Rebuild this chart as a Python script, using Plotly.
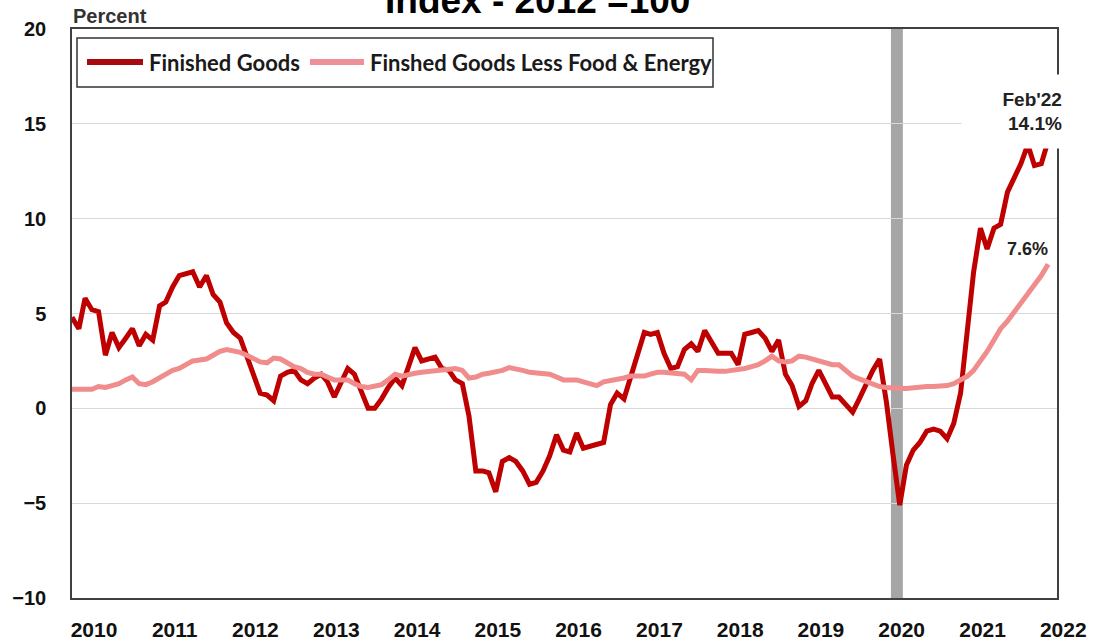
import pandas as pd
import plotly.graph_objects as go

# Monthly observations, Jan 2010 - Feb 2022 (year-over-year % change)
months = pd.date_range("2010-01-01", "2022-02-01", freq="MS")

finished_goods = [
    4.8, 4.2, 5.8, 5.2, 5.1, 2.8, 4.0, 3.2, 3.7, 4.2, 3.3, 3.9,      # 2010
    3.6, 5.4, 5.6, 6.4, 7.0, 7.1, 7.2, 6.4, 7.0, 6.0, 5.6, 4.5,      # 2011
    4.0, 3.7, 2.8, 1.8, 0.8, 0.7, 0.4, 1.7, 1.9, 2.0, 1.5, 1.3,      # 2012
    1.6, 1.8, 1.4, 0.6, 1.4, 2.1, 1.8, 0.9, 0.0, 0.0, 0.5, 1.1,      # 2013
    1.6, 1.2, 2.2, 3.2, 2.5, 2.6, 2.7, 2.1, 2.0, 1.5, 1.3, -0.4,     # 2014
    -3.3, -3.3, -3.4, -4.4, -2.8, -2.6, -2.8, -3.3, -4.0, -3.9, -3.3, -2.5,  # 2015
    -1.4, -2.2, -2.3, -1.3, -2.1, -2.0, -1.9, -1.8, 0.2, 0.8, 0.5, 1.6,      # 2016
    2.7, 4.0, 3.9, 4.0, 2.9, 2.1, 2.2, 3.1, 3.4, 3.0, 4.1, 3.5,      # 2017
    2.9, 2.9, 2.9, 2.3, 3.9, 4.0, 4.1, 3.7, 3.0, 3.6, 1.8, 1.2,      # 2018
    0.1, 0.4, 1.3, 2.0, 1.3, 0.6, 0.6, 0.2, -0.2, 0.5, 1.3, 2.0,     # 2019
    2.6, 0.3, -2.4, -5.1, -3.0, -2.2, -1.8, -1.2, -1.1, -1.2, -1.6, -0.8,    # 2020
    0.8, 4.0, 7.2, 9.5, 8.4, 9.5, 9.7, 11.4, 12.2, 12.9, 13.9, 12.8,  # 2021
    12.9, 14.1,                                                       # 2022
]

less_food_energy = [
    1.0, 1.0, 1.0, 1.0, 1.15, 1.1, 1.2, 1.3, 1.5, 1.65, 1.3, 1.25,   # 2010
    1.4, 1.6, 1.8, 2.0, 2.1, 2.3, 2.5, 2.55, 2.6, 2.8, 3.0, 3.1,     # 2011
    3.05, 2.95, 2.8, 2.6, 2.45, 2.4, 2.65, 2.6, 2.4, 2.2, 2.1, 1.9,  # 2012
    1.8, 1.8, 1.65, 1.5, 1.5, 1.5, 1.3, 1.15, 1.1, 1.15, 1.25, 1.5,  # 2013
    1.8, 1.7, 1.8, 1.85, 1.9, 1.95, 2.0, 2.0, 2.05, 2.1, 2.0, 1.6,   # 2014
    1.65, 1.8, 1.85, 1.9, 2.0, 2.15, 2.1, 2.0, 1.9, 1.85, 1.8, 1.8,  # 2015
    1.65, 1.5, 1.5, 1.5, 1.4, 1.3, 1.2, 1.4, 1.45, 1.55, 1.6, 1.7,   # 2016
    1.7, 1.7, 1.8, 1.9, 1.9, 1.85, 1.8, 1.8, 1.5, 2.0, 2.0, 1.95,    # 2017
    1.95, 1.95, 2.0, 2.0, 2.1, 2.2, 2.3, 2.5, 2.75, 2.5, 2.45, 2.5,  # 2018
    2.75, 2.7, 2.6, 2.55, 2.4, 2.3, 2.3, 2.0, 1.7, 1.55, 1.4, 1.25,  # 2019
    1.15, 1.1, 1.05, 1.05, 1.05, 1.1, 1.1, 1.15, 1.15, 1.15, 1.2, 1.3,  # 2020
    1.5, 1.7, 2.0, 2.5, 3.0, 3.6, 4.2, 4.6, 5.1, 5.6, 6.0, 6.5,      # 2021
    7.0, 7.6,                                                         # 2022
]

series_names = ["Finished Goods", "Finshed Goods Less Food & Energy"]
series_colors = ["#BE0000", "#F08C8C"]
legend_sample_colors = ["#A80A10", "#EE9098"]

recession = ("2020-02-21", "2020-04-15")
year_ticks = [f"{y}-01-01" for y in range(2010, 2023)]
year_labels = [str(y) for y in range(2010, 2023)]

title_text = "Index - 2012 =100"
y_unit = "Percent"
last_label = "Feb'22"

# Plot-area geometry in pixels (used to place paper-referenced items)
W, H = 1117, 644
L, R, T, B = 72, 1057, 29, 598


def px_x(px):
    return (px - L) / (R - L)


def px_y(py):
    return (B - py) / (B - T)


fig = go.Figure()

for name, values, color in zip(series_names, [finished_goods, less_food_energy], series_colors):
    fig.add_trace(go.Scatter(
        x=months, y=values, name=name, mode="lines",
        line=dict(color=color, width=5), showlegend=False,
    ))

# Recession shading
fig.add_shape(type="rect", xref="x", yref="paper",
              x0=recession[0], x1=recession[1], y0=0, y1=1,
              fillcolor="#A6A6A6", line=dict(width=0), layer="below")

# Legend box drawn by hand so the line samples can be long
fig.add_shape(type="rect", xref="paper", yref="paper",
              x0=px_x(77), x1=px_x(713), y0=px_y(87), y1=px_y(38),
              line=dict(color="#333333", width=1.5), fillcolor="white", layer="above")
legend_items = [(87, 143, 147), (310, 364, 368)]
for (sx0, sx1, tx), name, color in zip(legend_items, series_names, legend_sample_colors):
    fig.add_shape(type="line", xref="paper", yref="paper",
                  x0=px_x(sx0), x1=px_x(sx1), y0=px_y(62), y1=px_y(62),
                  line=dict(color=color, width=6), layer="above")
    fig.add_annotation(text=name, xref="paper", yref="paper", x=px_x(tx), y=px_y(62),
                       xanchor="left", yanchor="middle", showarrow=False,
                       font=dict(family="Lato, Carlito, Open Sans, sans-serif", size=22,
                                 color="#1A1A1A", weight="bold"))

# End-of-series value labels
fig.add_annotation(text=f"{last_label}<br>{finished_goods[-1]:.1f}%",
                   x=months[-1], y=finished_goods[-1], xref="x", yref="y",
                   xanchor="right", yanchor="bottom", showarrow=False,
                   width=100, height=73, align="right", valign="middle",
                   bgcolor="white", borderpad=0, xshift=15, yshift=-8,
                   font=dict(family="Arial, Liberation Sans, sans-serif", size=19,
                             color="#222222", weight="bold"))
fig.add_annotation(text=f"{less_food_energy[-1]:.1f}%",
                   x=months[-1], y=less_food_energy[-1], xref="x", yref="y",
                   xanchor="right", yanchor="middle", showarrow=False,
                   xshift=2, yshift=15,
                   font=dict(family="Arial, Liberation Sans, sans-serif", size=18,
                             color="#222222", weight="bold"))

# Title (sits partly above the page top) and unit label
fig.add_annotation(text=title_text, xref="paper", yref="paper",
                   x=px_x(537), y=px_y(0), xanchor="center", yanchor="middle",
                   showarrow=False,
                   font=dict(family="Arial, Liberation Sans, sans-serif", size=37,
                             color="#000000", weight="bold"))
fig.add_annotation(text=y_unit, xref="paper", yref="paper",
                   x=px_x(71), y=px_y(16), xanchor="left", yanchor="middle",
                   showarrow=False,
                   font=dict(family="Arial, Liberation Sans, sans-serif", size=20,
                             color="#333333", weight="bold"))

fig.update_layout(
    width=W, height=H,
    margin=dict(l=L, r=W - R, t=T, b=H - B, autoexpand=False),
    paper_bgcolor="white", plot_bgcolor="white",
    xaxis=dict(
        type="date", range=["2010-01-01", "2022-03-13"],
        tickvals=year_ticks, ticktext=year_labels,
        ticks="outside", ticklen=12, tickcolor="rgba(0,0,0,0)",
        ticklabelshift=22,
        showgrid=False, zeroline=False,
        showline=True, mirror=True, linecolor="#404040", linewidth=1.5,
        tickfont=dict(family="Liberation Sans Narrow, Arial Narrow, sans-serif",
                      size=21, color="#111111", weight="bold"),
    ),
    yaxis=dict(
        range=[-10, 20], dtick=5, tick0=0,
        ticks="outside", ticklen=20, tickcolor="rgba(0,0,0,0)",
        showgrid=True, gridcolor="#D9D9D9", gridwidth=1,
        zeroline=False,
        showline=True, mirror=True, linecolor="#404040", linewidth=1.5,
        tickfont=dict(family="Arial, Liberation Sans, sans-serif", size=20,
                      color="#111111", weight="bold"),
    ),
)

fig.write_html("out.html")
